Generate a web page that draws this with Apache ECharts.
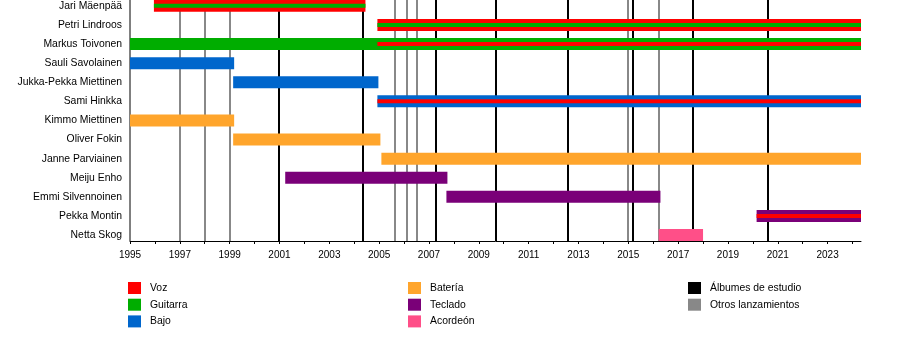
<!DOCTYPE html>
<html>
<head>
<meta charset="utf-8">
<script src="https://cdn.jsdelivr.net/npm/echarts@6/dist/echarts.min.js"></script>
<style>
html,body{margin:0;padding:0;background:#fff;}
#chart{width:900px;height:355px;}
</style>
</head>
<body>
<div id="chart"></div>
<script>
const members = ['Jari Mäenpää','Petri Lindroos','Markus Toivonen','Sauli Savolainen','Jukka-Pekka Miettinen','Sami Hinkka','Kimmo Miettinen','Oliver Fokin','Janne Parviainen','Meiju Enho','Emmi Silvennoinen','Pekka Montin','Netta Skog'];
const roles = ['Voz','Guitarra','Bajo','Batería','Teclado','Acordeón'];
const roleColors = ['#ff0000','#00ad00','#0066cc','#ffa52c','#7a0078','#ff4f88'];
// [member index, role index, start, end]
const mainBars = [
  [0,0,1995.96,2004.45],
  [1,0,2004.93,2024.34],
  [2,1,1995.0,2024.34],
  [3,2,1995.0,1999.18],
  [4,2,1999.14,2004.97],
  [5,2,2004.93,2024.34],
  [6,3,1995.0,1999.18],
  [7,3,1999.14,2005.05],
  [8,3,2005.09,2024.34],
  [9,4,2001.23,2007.74],
  [10,4,2007.70,2016.29],
  [11,4,2020.15,2024.34],
  [12,5,2016.22,2018.0]
];
const stripeBars = [
  [0,1,1995.96,2004.45],
  [1,1,2004.93,2024.34],
  [2,0,2004.93,2024.34],
  [5,0,2004.93,2024.34],
  [11,0,2020.15,2024.34]
];
const studioAlbums = [2001.0,2004.37,2007.29,2009.71,2012.57,2015.18,2017.6,2020.59];
const otherReleases = [1997.0,1998.0,1999.0,2005.65,2006.13,2006.5,2014.98,2016.25];
const lineNames = ['Álbumes de estudio','Otros lanzamientos'];
const lineColors = ['#000000','#888888'];
const xMin = 1995, xMax = 2024.34;

const AXIS_Y = 241;
function barRender(h){
  return function(params, api){
    const s = api.coord([api.value(0), api.value(2)]);
    const e = api.coord([api.value(1), api.value(2)]);
    return {type:'rect', shape:{x:s[0], y:s[1]-h/2, width:e[0]-s[0], height:h}, style:{fill:api.visual('color')}};
  };
}
function lineRender(w){
  return function(params, api){
    const p = api.coord([api.value(0), 0]);
    const x = Math.round(p[0]);
    return {type:'line', shape:{x1:x, y1:0, x2:x, y2:AXIS_Y}, style:{stroke:api.visual('color'), lineWidth:w}};
  };
}
const series = [];
[studioAlbums, otherReleases].forEach((arr, i) => {
  series.push({
    type:'custom', name:lineNames[i], z:1, renderItem:lineRender(2),
    itemStyle:{color:lineColors[i]},
    encode:{x:0, y:1},
    data: arr.map(v => [v, 0])
  });
});
series.push({
  type:'custom', name:'frame', z:1, renderItem:lineRender(1),
  itemStyle:{color:'#000'}, encode:{x:0,y:1}, data:[[xMin,0]]
});
roles.forEach((r, ri) => {
  series.push({
    type:'custom', name:r, z:2, renderItem:barRender(12),
    itemStyle:{color:roleColors[ri]},
    encode:{x:[0,1], y:2},
    data: mainBars.filter(b => b[1]===ri).map(b => [b[2], b[3], b[0]])
  });
});
roles.forEach((r, ri) => {
  const d = stripeBars.filter(b => b[1]===ri);
  if (!d.length) return;
  series.push({
    type:'custom', name:r, z:3, renderItem:barRender(4),
    itemStyle:{color:roleColors[ri]},
    encode:{x:[0,1], y:2},
    data: d.map(b => [b[2], b[3], b[0]])
  });
});

const font = '"Liberation Sans", Arial, sans-serif';
function legend(data, left){
  return {
    data: data, orient:'vertical', left:left, top:282, padding:0,
    icon:'rect', itemWidth:13, itemHeight:12, itemGap:4.7,
    selectedMode:false,
    textStyle:{fontSize:10.4, color:'#000', fontFamily:font, padding:[0,0,0,4]}
  };
}
const chart = echarts.init(document.getElementById('chart'), null, {renderer:'canvas'});
chart.setOption({
  animation:false,
  backgroundColor:'#fff',
  textStyle:{fontFamily:font},
  grid:{left:130, right:900-861, top:-3.7, height:248.3, containLabel:false, outerBoundsMode:'none'},
  xAxis:{
    type:'value', min:xMin, max:xMax, interval:1, offset:-3.6,
    axisLine:{show:true, lineStyle:{color:'#000', width:1}},
    axisTick:{show:true, length:3, lineStyle:{color:'#000'}},
    splitLine:{show:false},
    axisLabel:{fontSize:10, color:'#000', fontFamily:font, margin:9, showMaxLabel:false,
      formatter: v => (Math.round(v) === v && v % 2 === 1) ? String(v) : ''}
  },
  yAxis:{
    type:'category', data:members, inverse:true,
    axisLine:{show:false}, axisTick:{show:false}, splitLine:{show:false},
    axisLabel:{fontSize:10.4, color:'#000', fontFamily:font, margin:8}
  },
  legend:[
    legend(['Voz','Guitarra','Bajo'], 128),
    legend(['Batería','Teclado','Acordeón'], 408),
    legend(lineNames, 688)
  ],
  series: series
});
</script>
</body>
</html>
